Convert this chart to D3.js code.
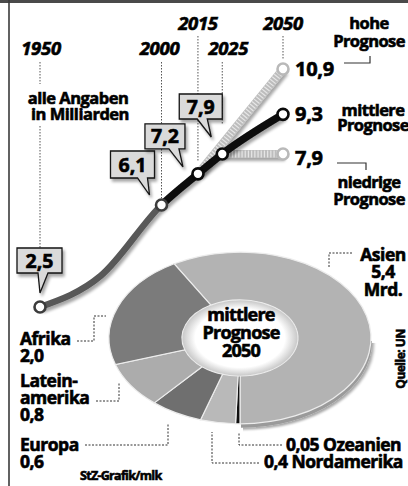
<!DOCTYPE html>
<html>
<head>
<meta charset="utf-8">
<script src="https://cdn.jsdelivr.net/npm/d3@7"></script>
<style>
  html, body { margin: 0; padding: 0; background: #fff; }
  svg { display: block; font-family: "Open Sans", "DejaVu Sans", sans-serif; font-weight: 700; }
  svg text { paint-order: stroke; stroke: currentColor; stroke-width: 0.65px; }
</style>
</head>
<body>
<svg id="chart" width="408" height="486" color="#0d0d0d"></svg>
<script>
// Weltbevölkerung in Milliarden – Verlauf und Prognosen
const yearTicks = [1950, 2000, 2015, 2025, 2050];
const yearTickLabels = ["1950", "2000", "2015", "2025", "2050"];

const centralYears = [1950, 1975, 2000, 2015, 2025, 2050];
const centralValues = [2.5, 3.6, 6.1, 7.2, 7.9, 9.3];

const highYears = [2015, 2050];
const highValues = [7.2, 10.9];
const lowYears = [2025, 2050];
const lowValues = [7.9, 7.9];

const calloutYears = [1950, 2000, 2015, 2025];
const calloutValues = [2.5, 6.1, 7.2, 7.9];
const calloutLabels = ["2,5", "6,1", "7,2", "7,9"];

const forecastValues = [10.9, 9.3, 7.9];
const forecastLabels = ["10,9", "9,3", "7,9"];
const forecastNames = [["hohe", "Prognose"], ["mittlere", "Prognose"], ["niedrige", "Prognose"]];

// Verteilung 2050 nach Regionen (mittlere Prognose)
const regionNames = ["Asien", "Ozeanien", "Nordamerika", "Europa", "Lateinamerika", "Afrika"];
const regionValues = [5.4, 0.05, 0.4, 0.6, 0.8, 2.0];
const regionColors = ["#b3b3b3", "#111111", "#b9b9b9", "#6f6f6f", "#acacac", "#7b7b7b"];

const svg = d3.select("#chart");
const defs = svg.append("defs");

// soft drop shadow for lines, callouts and the ring (user space, so flat lines keep it too)
const shadow = defs.append("filter").attr("id", "shadow").attr("filterUnits", "userSpaceOnUse")
  .attr("x", 0).attr("y", 0).attr("width", 408).attr("height", 486);
shadow.append("feGaussianBlur").attr("in", "SourceAlpha").attr("stdDeviation", 1.8).attr("result", "b");
shadow.append("feOffset").attr("in", "b").attr("dx", 2).attr("dy", 3).attr("result", "o");
shadow.append("feComponentTransfer").attr("in", "o").attr("result", "s")
  .append("feFuncA").attr("type", "linear").attr("slope", 0.35);
const merge = shadow.append("feMerge");
merge.append("feMergeNode").attr("in", "s");
merge.append("feMergeNode").attr("in", "SourceGraphic");

// frame
svg.append("rect").attr("x", 0).attr("y", 0).attr("width", 408).attr("height", 3).attr("fill", "#4a4a4a");
svg.append("line").attr("x1", 9).attr("x2", 9).attr("y1", 0).attr("y2", 486)
  .attr("stroke", "#3a3a3a").attr("stroke-width", 1.6);

// scales
const x = d3.scaleLinear().domain([1950, 2050]).range([40, 283]);
const y = d3.scaleLinear().domain([2.5, 10.9]).range([307, 69]);

// year labels and dotted guides
const yearLabelY = [55, 55, 30, 55, 30];
const yearLabelDx = [1, -2, 0, 6, 0];
const guideSpans = [[[62, 84], [126, 250]], [[62, 198]], [[36, 162]], [[62, 125]], [[36, 59]]];
const guides = svg.append("g");
yearTicks.forEach((yr, i) => {
  guideSpans[i].forEach(s => {
    guides.append("line")
      .attr("x1", x(yr)).attr("x2", x(yr)).attr("y1", s[0]).attr("y2", s[1])
      .attr("stroke", "#555").attr("stroke-width", 1).attr("stroke-dasharray", "1.5 1.5");
  });
  svg.append("text")
    .attr("x", x(yr) + yearLabelDx[i]).attr("y", yearLabelY[i])
    .attr("text-anchor", "middle").attr("font-size", 18.5).attr("font-style", "italic")
    .attr("letter-spacing", -0.3).text(yearTickLabels[i]);
});

svg.append("text").attr("x", 78).attr("y", 104).attr("text-anchor", "middle")
  .attr("font-size", 16.5).attr("letter-spacing", -0.5).text("alle Angaben");
svg.append("text").attr("x", 80).attr("y", 120).attr("text-anchor", "middle")
  .attr("font-size", 16.5).attr("letter-spacing", -0.5).text("in Milliarden");

// ---------- donut: mittlere Prognose 2050 ----------
const cx = 240, cy = 338, rOuter = 131, rInner = 58, tilt = 0.655;
const total = d3.sum(regionValues);
const startA = Math.PI - 2 * Math.PI * regionValues[0] / total;
const pie = d3.pie().sort(null).value(d => d)
  .startAngle(startA).endAngle(startA + 2 * Math.PI);
const arc = d3.arc().innerRadius(rInner).outerRadius(rOuter);
const arcs = pie(regionValues);

const ring = svg.append("g").attr("transform", `translate(${cx},${cy}) scale(1,${tilt})`);
// depth of the disc
ring.append("path")
  .attr("d", d3.arc().innerRadius(rInner).outerRadius(rOuter)({startAngle: 0, endAngle: 2 * Math.PI}))
  .attr("transform", "translate(1,6)")
  .attr("fill", "#9a9a9a").attr("filter", "url(#shadow)");
ring.selectAll("path.slice").data(arcs).join("path").attr("class", "slice")
  .attr("d", arc)
  .attr("fill", (d, i) => regionColors[i])
  .attr("stroke", "#ececec").attr("stroke-width", 1.2)
  .attr("vector-effect", "non-scaling-stroke");

// hole with soft inner rim
const holeGrad = defs.append("radialGradient").attr("id", "hole");
holeGrad.append("stop").attr("offset", "0%").attr("stop-color", "#fff");
holeGrad.append("stop").attr("offset", "78%").attr("stop-color", "#fff");
holeGrad.append("stop").attr("offset", "100%").attr("stop-color", "#c9c9c9");
ring.append("circle").attr("r", rInner - 0.5).attr("fill", "url(#hole)");

const centerText = ["mittlere", "Prognose", "2050"];
const centerY = [321, 339, 357];
centerText.forEach((t, i) => {
  svg.append("text").attr("x", cx + 1).attr("y", centerY[i]).attr("text-anchor", "middle")
    .attr("font-size", 18).attr("letter-spacing", -0.8).text(t);
});

// ---------- line chart ----------
const central = centralYears.map((yr, i) => ({year: yr, value: centralValues[i]}));
const high = highYears.map((yr, i) => ({year: yr, value: highValues[i]}));
const low = lowYears.map((yr, i) => ({year: yr, value: lowValues[i]}));
const line = d3.line().x(d => x(d.year)).y(d => y(d.value)).curve(d3.curveMonotoneX);

defs.append("clipPath").attr("id", "past").append("rect")
  .attr("x", 0).attr("y", 0).attr("width", x(2000)).attr("height", 486);
defs.append("clipPath").attr("id", "future").append("rect")
  .attr("x", x(2000)).attr("y", 0).attr("width", 408 - x(2000)).attr("height", 486);

// textured forecast bands
[high, low].forEach(series => {
  const g = svg.append("g").attr("filter", "url(#shadow)");
  g.append("path").attr("d", line(series)).attr("fill", "none")
    .attr("stroke", "#bdbdbd").attr("stroke-width", 8);
  g.append("path").attr("d", line(series)).attr("fill", "none")
    .attr("stroke", "#e6e6e6").attr("stroke-width", 7).attr("stroke-dasharray", "1.2 2");
});

const centralG = svg.append("g").attr("filter", "url(#shadow)");
centralG.append("path").attr("d", line(central)).attr("clip-path", "url(#past)")
  .attr("fill", "none").attr("stroke", "#585858").attr("stroke-width", 6.5);
centralG.append("path").attr("d", line(central)).attr("clip-path", "url(#future)")
  .attr("fill", "none").attr("stroke", "#0a0a0a").attr("stroke-width", 7.5);

// point markers
const markers = [
  ...calloutYears.map((yr, i) => ({year: yr, value: calloutValues[i], c: yr < 2015 ? "#3c3c3c" : "#0a0a0a"})),
  {year: 2050, value: highValues[1], c: "#b9b9b9"},
  {year: 2050, value: centralValues[5], c: "#0a0a0a"},
  {year: 2050, value: lowValues[1], c: "#b9b9b9"}
];
svg.selectAll("circle.pt").data(markers).join("circle").attr("class", "pt")
  .attr("cx", d => x(d.year)).attr("cy", d => y(d.value)).attr("r", 5.5)
  .attr("fill", "#fff").attr("stroke", d => d.c).attr("stroke-width", 2.6);

// callout boxes: box offset (dx, dy, w, h), tail base (b1, b2), tail tip (tx, ty) relative to the point
const calloutLayout = [
  {dx: -23, dy: -59, w: 45, h: 25, b1: -2, b2: 8, tx: 0, ty: -14},
  {dx: -51, dy: -54, w: 44, h: 27, b1: -24, b2: -14, tx: -12, ty: -10},
  {dx: -53, dy: -50, w: 40, h: 25, b1: -29, b2: -19, tx: -15, ty: -7},
  {dx: -43, dy: -60, w: 43, h: 25, b1: -25, b2: -15, tx: -11, ty: -17}
];
calloutYears.forEach((yr, i) => {
  const px = x(yr), py = y(calloutValues[i]), L = calloutLayout[i];
  const x0 = px + L.dx, y0 = py + L.dy, x1 = x0 + L.w, y1 = y0 + L.h;
  const p = d3.path();
  p.moveTo(x0, y0); p.lineTo(x1, y0); p.lineTo(x1, y1);
  p.lineTo(px + L.b2, y1); p.lineTo(px + L.tx, py + L.ty); p.lineTo(px + L.b1, y1);
  p.lineTo(x0, y1); p.closePath();
  svg.append("path").attr("d", p.toString()).attr("fill", "#dadada")
    .attr("stroke", "#151515").attr("stroke-width", 1.3).attr("filter", "url(#shadow)");
  svg.append("text").attr("x", (x0 + x1) / 2).attr("y", y0 + L.h / 2 + 7)
    .attr("text-anchor", "middle").attr("font-size", 19.5).text(calloutLabels[i]);
});

// forecast end values and names
const nameLayout = [
  {cx: 369, y: [29, 47], bracket: [[344, 63], [370, 63], [370, 56]]},
  {cx: 373, y: [116, 131], bracket: null},
  {cx: 369, y: [188, 205], bracket: [[337, 163], [366, 163], [366, 170]]}
];
forecastValues.forEach((v, i) => {
  svg.append("text").attr("x", 295).attr("y", y(v) + 7 + (i === 2 ? 4 : 0))
    .attr("font-size", 20).attr("letter-spacing", -0.3).text(forecastLabels[i]);
  const L = nameLayout[i];
  forecastNames[i].forEach((t, j) => {
    svg.append("text").attr("x", L.cx).attr("y", L.y[j]).attr("text-anchor", "middle")
      .attr("font-size", 16.5).attr("letter-spacing", -0.6).text(t);
  });
  if (L.bracket) {
    svg.append("path").attr("d", d3.line()(L.bracket)).attr("fill", "none")
      .attr("stroke", "#333").attr("stroke-width", 1.2);
  }
});

// ---------- region labels ----------
const regionText = [
  {lines: ["Asien", "5,4", "Mrd."], x: 383, y: [261, 278, 296], anchor: "middle",
   leader: [[352, 253], [329, 253], [329, 268]]},
  {lines: ["0,05 Ozeanien"], x: 286, y: [451], anchor: "start",
   leader: [[282, 445], [239, 445], [239, 432]]},
  {lines: ["0,4 Nordamerika"], x: 264, y: [468], anchor: "start",
   leader: [[259, 463], [212, 463], [212, 432]]},
  {lines: ["Europa", "0,6"], x: 20, y: [451, 468], anchor: "start",
   leader: [[85, 445], [168, 445], [168, 423]]},
  {lines: ["Latein-", "amerika", "0,8"], x: 20, y: [387, 404, 421], anchor: "start",
   leader: [[96, 401], [119, 401], [119, 383]]},
  {lines: ["Afrika", "2,0"], x: 20, y: [345, 362], anchor: "start",
   leader: [[77, 341], [94, 341], [94, 316], [106, 316]]}
];
regionText.forEach(r => {
  svg.append("path").attr("d", d3.line()(r.leader)).attr("fill", "none")
    .attr("stroke", "#333").attr("stroke-width", 1).attr("stroke-dasharray", "2 1.5");
  r.lines.forEach((t, j) => {
    svg.append("text").attr("x", r.x).attr("y", r.y[j]).attr("text-anchor", r.anchor)
      .attr("font-size", 17.5).attr("letter-spacing", -0.5).text(t);
  });
});

svg.append("text").attr("x", 80).attr("y", 480).attr("font-size", 12.5)
  .attr("letter-spacing", -0.7).text("StZ-Grafik/mlk");
svg.append("text").attr("transform", "translate(405,359) rotate(-90)")
  .attr("text-anchor", "middle").attr("font-size", 12).attr("letter-spacing", -0.5)
  .text("Quelle: UN");
</script>
</body>
</html>
